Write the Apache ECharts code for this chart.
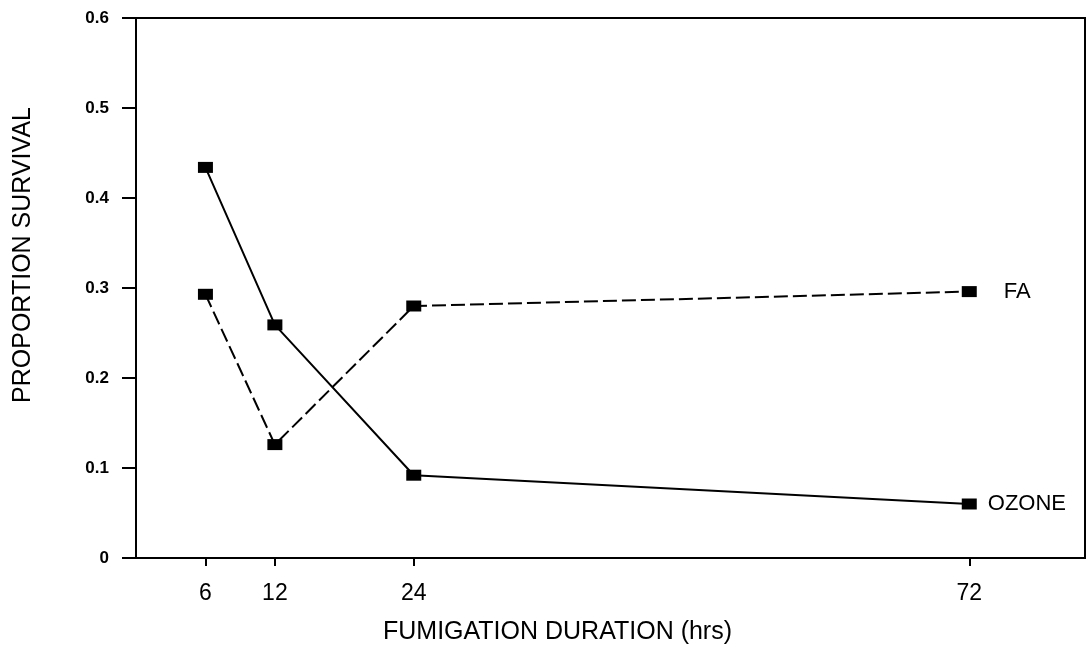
<!DOCTYPE html>
<html>
<head>
<meta charset="utf-8">
<script src="https://cdn.jsdelivr.net/npm/echarts@6/dist/echarts.min.js"></script>
<style>
  html, body { margin: 0; padding: 0; background: #fff; }
  #chart { width: 1088px; height: 654px; }
</style>
</head>
<body>
<div id="chart"></div>
<script>
// Fumigation duration (hrs) and proportion survival per treatment
const durations = [6, 12, 24, 72];
const ozone = [0.434, 0.259, 0.092, 0.060];
const fa = [0.293, 0.126, 0.280, 0.296];
const xTicks = [6, 12, 24, 72];
const yTicks = [0, 0.1, 0.2, 0.3, 0.4, 0.5, 0.6];

const FONT = '"Liberation Sans", Arial, Helvetica, sans-serif';

function pairs(xs, ys) {
  return xs.map((x, i) => [x, ys[i]]);
}

// Put the series name as a text label beside its last point
function withEndLabel(points, text, size, dist) {
  return points.map((p, i) => {
    if (i !== points.length - 1) return p;
    return {
      value: p,
      label: {
        show: true,
        position: 'right',
        distance: dist,
        formatter: text,
        color: '#000',
        fontFamily: FONT,
        fontSize: size
      }
    };
  });
}

const chart = echarts.init(document.getElementById('chart'));
chart.setOption({
  animation: false,
  backgroundColor: '#fff',
  grid: {
    left: 136, right: 3, top: 18, bottom: 96,
    show: true, borderColor: '#000', borderWidth: 2, backgroundColor: 'transparent'
  },
  xAxis: {
    type: 'value',
    min: 0, max: 82,
    name: 'FUMIGATION DURATION (hrs)',
    nameLocation: 'middle',
    nameGap: 62,
    nameTextStyle: { color: '#000', fontFamily: FONT, fontSize: 25, padding: [0, 106, 0, 0] },
    axisLine: { show: true, onZero: false, lineStyle: { color: '#000', width: 2 } },
    axisTick: { show: true, length: 8, customValues: xTicks, lineStyle: { color: '#000', width: 2 } },
    axisLabel: { customValues: xTicks, color: '#000', fontFamily: FONT, fontSize: 23, margin: 24 },
    splitLine: { show: false }
  },
  yAxis: {
    type: 'value',
    min: 0, max: 0.6, interval: 0.1,
    name: 'PROPORTION SURVIVAL',
    nameLocation: 'middle',
    nameGap: 100,
    nameTextStyle: { color: '#000', fontFamily: FONT, fontSize: 25, padding: [0, 0, 0, 66] },
    axisLine: { show: true, lineStyle: { color: '#000', width: 2 } },
    axisTick: { show: true, length: 14, customValues: yTicks, lineStyle: { color: '#000', width: 2 } },
    axisLabel: {
      color: '#000', fontFamily: FONT, fontSize: 17, fontWeight: 'bold', margin: 27,
      formatter: v => (v === 0 ? '0' : v.toFixed(1))
    },
    splitLine: { show: false }
  },
  series: [
    {
      name: 'OZONE',
      type: 'line',
      data: withEndLabel(pairs(durations, ozone), 'OZONE', 22, 11),
      symbol: 'rect',
      symbolSize: [15, 11],
      itemStyle: { color: '#000' },
      lineStyle: { color: '#000', width: 2, type: 'solid' }
    },
    {
      name: 'FA',
      type: 'line',
      data: withEndLabel(pairs(durations, fa), 'FA', 22, 27),
      symbol: 'rect',
      symbolSize: [15, 11],
      itemStyle: { color: '#000' },
      lineStyle: { color: '#000', width: 2, type: [14, 5] }
    }
  ]
});
</script>
</body>
</html>
